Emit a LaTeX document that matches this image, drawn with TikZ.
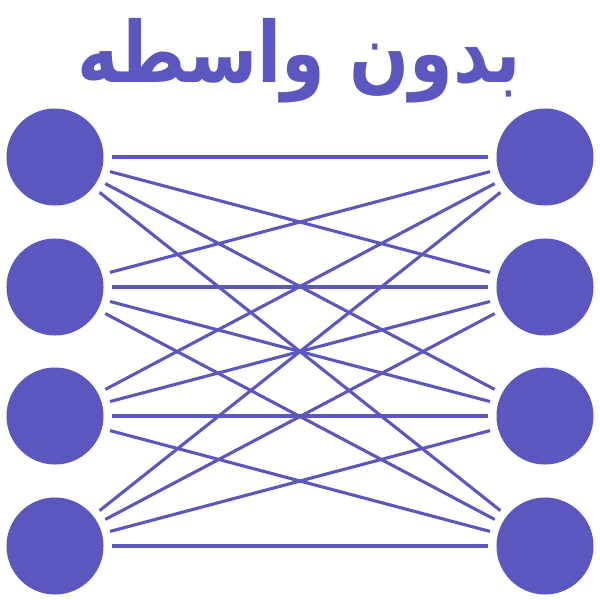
\documentclass[tikz,border=0pt]{standalone}
\usepackage{fontspec}
\newfontfamily\arabicfont[Script=Arabic]{DejaVu Sans}
\TeXXeTstate=1
\definecolor{netpurple}{RGB}{91,87,190}

\begin{document}
\begin{tikzpicture}[x=0.025cm, y=-0.025cm]
  \useasboundingbox (0,0) rectangle (600,600);

  \tikzset{
    peer/.style={circle, fill=netpurple, inner sep=0pt, minimum size=2.425cm, outer sep=0.21cm},
    wire/.style={draw=netpurple, line width=2.2pt}
  }

  % Draw the title
  \node[anchor=base, text=netpurple, font=\arabicfont\bfseries\fontsize{50}{54}\selectfont] (title) at (299,82) {\scalebox{1}[1.2]{\beginR بدون واسطه\endR}};

  % Draw the nodes on the left and right
  \foreach \i/\y in {1/157, 2/287, 3/416, 4/546} {
    \node[peer] (l\i) at (55,\y) {};
    \node[peer] (r\i) at (545,\y) {};
  }

  % Draw every connection from left to right
  \foreach \i in {1,...,4} {
    \foreach \j in {1,...,4} {
      \draw[wire] (l\i) -- (r\j);
    }
  }
\end{tikzpicture}
\end{document}
